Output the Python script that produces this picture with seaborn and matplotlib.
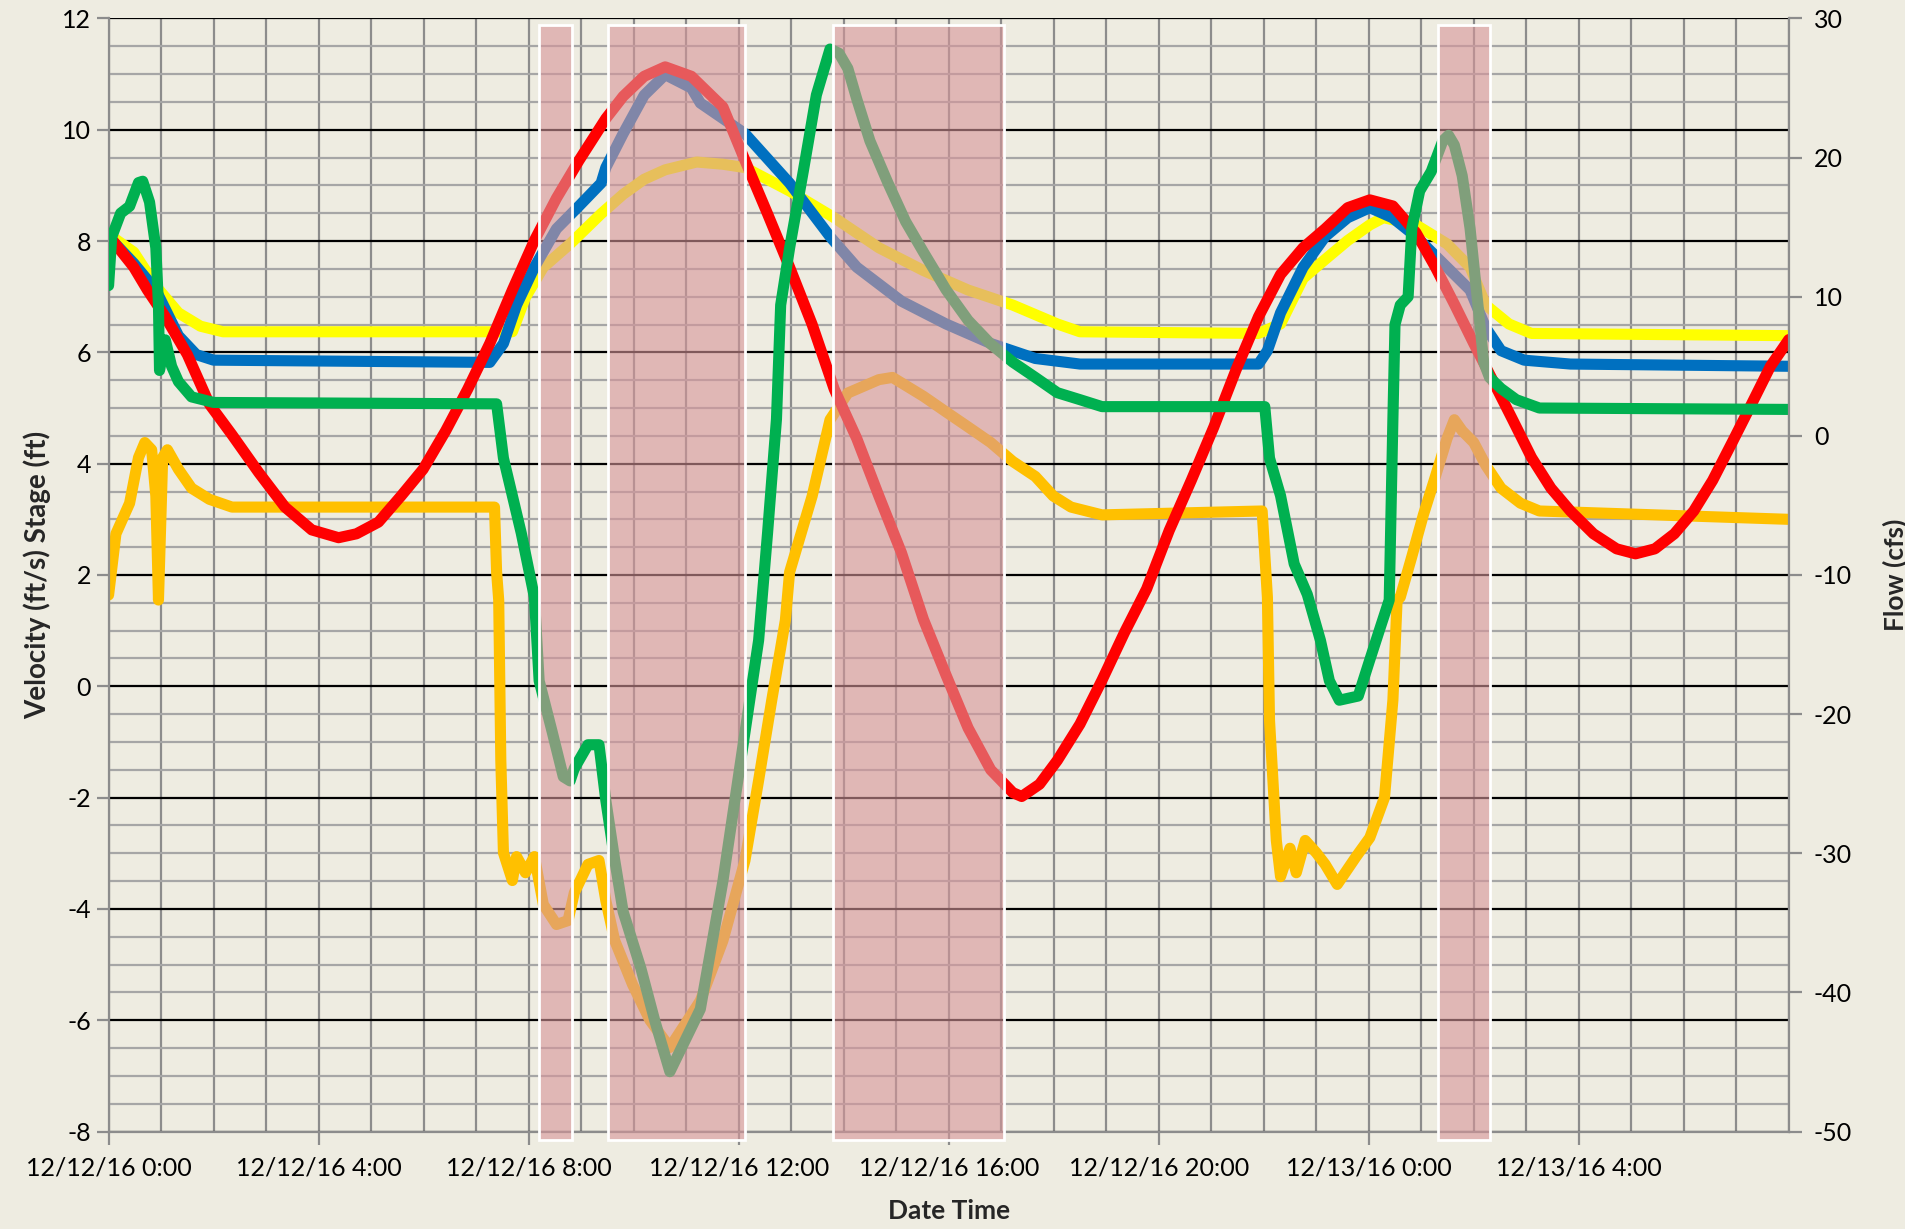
import pandas as pd
import matplotlib
matplotlib.use('Agg')
import matplotlib.pyplot as plt
import matplotlib.dates as mdates
from matplotlib.ticker import MultipleLocator
import seaborn as sns

sns.set_theme(style='white')
plt.rcParams['font.family'] = ['Lato', 'DejaVu Sans']
plt.rcParams['axes.unicode_minus'] = False

# hours after 12/12/16 0:00
red_h = [0, 0.48, 0.74, 1.08, 1.5, 1.92, 2.35, 2.86, 3.36, 3.87, 4.38, 4.72, 5.14, 5.57, 5.99, 6.42,
         6.84, 7.26, 7.69, 8.11, 8.53, 8.96, 9.47, 9.8, 10.2, 10.6, 11.1, 11.7, 12.12, 12.55, 12.97,
         13.4, 13.82, 14.25, 14.67, 15.1, 15.52, 15.95, 16.37, 16.8, 17.22, 17.39, 17.73, 18.07, 18.5,
         18.92, 19.35, 19.77, 20.2, 20.62, 21.05, 21.47, 21.9, 22.32, 22.75, 23.17, 23.6, 24.02, 24.46,
         24.9, 25.27, 25.64, 26.0, 26.37, 26.74, 27.1, 27.47, 27.84, 28.28, 28.72, 29.08, 29.45, 29.82,
         30.19, 30.55, 30.92, 31.29, 31.65, 32.0]
red_v = [8.1, 7.53, 7.12, 6.64, 5.96, 5.07, 4.52, 3.84, 3.22, 2.81, 2.67, 2.74, 2.95, 3.42, 3.9, 4.59,
         5.34, 6.16, 7.12, 8.01, 8.77, 9.45, 10.2, 10.6, 10.96, 11.13, 10.96, 10.41, 9.45, 8.49, 7.53,
         6.5, 5.34, 4.45, 3.42, 2.4, 1.2, 0.2, -0.75, -1.5, -1.91, -1.98, -1.76, -1.33, -0.68,
         0.11, 0.97, 1.75, 2.8, 3.7, 4.66, 5.68, 6.64, 7.4, 7.88, 8.22, 8.6, 8.74, 8.63,
         8.15, 7.53, 6.85, 6.16, 5.48, 4.79, 4.11, 3.56, 3.15, 2.74, 2.47, 2.38, 2.47, 2.74,
         3.15, 3.7, 4.38, 5.07, 5.75, 6.23]

blue_h = [0, 0.48, 0.9, 1.33, 1.67, 2.0, 7.26, 7.52, 7.77, 8.11, 8.53, 8.96, 9.38, 9.47, 9.8, 10.2,
          10.6, 11.1, 11.27, 12.12, 12.97, 13.74, 14.25, 15.1, 15.95, 16.8, 17.65, 18.5, 21.9, 22.07,
          22.32, 22.75, 23.17, 23.6, 24.02, 24.45, 24.9, 25.49, 25.93, 26.23, 26.52, 26.96, 27.84, 32.0]
blue_v = [8.08, 7.6, 7.12, 6.3, 5.96, 5.86, 5.82, 6.16, 6.85, 7.53, 8.22, 8.63, 9.04, 9.32, 9.93, 10.62,
          10.99, 10.75, 10.48, 9.93, 9.04, 8.08, 7.53, 6.92, 6.51, 6.16, 5.89, 5.79, 5.79, 6.03,
          6.71, 7.53, 8.08, 8.42, 8.6, 8.42, 8.08, 7.53, 7.12, 6.44, 6.03, 5.86, 5.79, 5.75]

yellow_h = [0, 0.48, 0.9, 1.33, 1.75, 2.18, 7.69, 7.94, 8.28, 8.79, 9.38, 9.8, 10.2, 10.6, 11.2, 11.7,
            12.12, 12.97, 13.82, 14.67, 15.52, 16.37, 17.22, 18.07, 18.5, 21.9, 22.32, 22.75, 23.17,
            23.6, 24.02, 24.28, 24.9, 25.49, 25.93, 26.23, 26.67, 27.1, 32.0]
yellow_v = [8.12, 7.8, 7.19, 6.71, 6.47, 6.37, 6.37, 6.99, 7.53, 7.95, 8.49, 8.84, 9.11, 9.28, 9.42, 9.38,
            9.32, 8.9, 8.42, 7.88, 7.47, 7.12, 6.85, 6.51, 6.37, 6.34, 6.51, 7.33, 7.67,
            8.01, 8.29, 8.42, 8.29, 7.95, 7.53, 6.85, 6.51, 6.34, 6.3]

orange_h = [0, 0.14, 0.4, 0.57, 0.69, 0.82, 0.9, 0.95, 1.03, 1.12, 1.33, 1.58, 1.92, 2.35, 7.35, 7.39,
            7.43, 7.47, 7.52, 7.69, 7.77, 7.94, 8.11, 8.28, 8.53, 8.75, 8.87, 9.13, 9.34, 9.47, 9.64,
            9.98, 10.31, 10.69, 11.27, 11.7, 12.12, 12.38, 12.63, 12.89, 12.97, 13.4, 13.74, 14.08,
            14.67, 14.93, 15.52, 15.95, 16.37, 16.8, 17.22, 17.65, 17.99, 18.33, 18.92, 21.97, 22.07,
            22.11, 22.24, 22.32, 22.5, 22.62, 22.79, 23.0, 23.17, 23.4, 23.76, 24.02, 24.3, 24.46, 24.54,
            24.6, 24.82, 25.04, 25.27, 25.49, 25.63, 25.78, 26.0, 26.23, 26.52, 26.89, 27.25, 32.0]
orange_v = [1.64, 2.74, 3.29, 4.11, 4.38, 4.25, 3.42, 1.55, 4.11, 4.25, 3.9, 3.56, 3.36, 3.22, 3.22, 2.05,
            1.55, -1.33, -2.99, -3.49, -3.06, -3.35, -3.06, -3.92, -4.28, -4.21, -3.71, -3.2, -3.13, -3.85, -4.57,
            -5.36, -6.0, -6.49, -5.65, -4.57, -3.13, -1.69, -0.25, 1.19, 2.05, 3.42, 4.79, 5.27,
            5.51, 5.55, 5.21, 4.93, 4.66, 4.38, 4.04, 3.77, 3.42, 3.22, 3.08, 3.15, 1.6,
            -0.61, -2.77, -3.42, -2.91, -3.35, -2.77, -2.99, -3.2, -3.56, -3.06, -2.72, -2.0, -0.25, 1.55,
            1.6, 2.33, 3.08, 3.77, 4.45, 4.79, 4.59, 4.38, 3.97, 3.56, 3.29, 3.15, 3.0]

flow_h = [0, 0.06, 0.23, 0.4, 0.57, 0.65, 0.78, 0.9, 0.95, 0.97, 1.08, 1.2, 1.33, 1.58, 2.0, 7.39,
          7.52, 7.69, 7.86, 8.11, 8.2, 8.45, 8.66, 8.79, 8.87, 9.13, 9.34, 9.47, 9.64, 9.8, 10.14,
          10.4, 10.69, 11.27, 11.7, 12.12, 12.38, 12.55, 12.72, 12.8, 12.97, 13.23, 13.48, 13.74,
          13.91, 14.08, 14.25, 14.5, 14.84, 15.18, 15.52, 15.95, 16.37, 16.8, 17.22, 17.65, 18.07,
          18.5, 18.92, 22.02, 22.11, 22.32, 22.58, 22.83, 23.08, 23.25, 23.44, 23.8, 24.02, 24.2,
          24.39, 24.46, 24.5, 24.6, 24.75, 24.82, 24.97, 25.19, 25.3, 25.41, 25.52, 25.63, 25.78,
          25.93, 26.08, 26.19, 26.3, 26.52, 26.81, 27.25, 32.0]
flow_v = [10.8, 14.3, 16.0, 16.5, 18.2, 18.3, 16.8, 13.5, 9.4, 4.7, 6.9, 5.0, 3.9, 2.8, 2.4, 2.3,
          -1.6, -4.3, -7.0, -11.6, -17.6, -21.3, -24.5, -24.8, -23.9, -22.2, -22.2, -26.2, -30.5, -34.2, -38.3,
          -42.0, -45.7, -41.2, -32.0, -21.3, -14.7, -7.0, 1.2, 9.4, 13.5, 19.0, 24.5, 27.8,
          27.5, 26.4, 24.2, 21.2, 18.2, 15.4, 13.2, 10.5, 8.3, 6.6, 5.3, 4.2, 3.1,
          2.6, 2.1, 2.1, -1.6, -4.3, -9.2, -11.4, -14.7, -17.6, -19.0, -18.7, -16.1, -14.0,
          -11.8, 1.2, 8.0, 9.4, 10.0, 14.9, 17.6, 19.0, 20.1, 21.2, 21.6, 20.9, 18.7,
          14.9, 9.4, 5.3, 4.2, 3.4, 2.6, 2.0, 1.9]

# shaded windows (hours)
band_start = [8.2, 9.51, 13.79, 25.32]
band_end = [8.83, 12.12, 17.05, 26.3]

tick_hours = [0, 4, 8, 12, 16, 20, 24, 28]

t0 = pd.Timestamp('2016-12-12 00:00')
def to_time(hours):
    return t0 + pd.to_timedelta(hours, unit='h')

bg = '#EEECE1'
fig = plt.figure(figsize=(19.05, 12.29), dpi=100, facecolor=bg)
ax = fig.add_axes([0.057, 0.0793, 0.882, 0.9057])
ax.set_facecolor(bg)
ax2 = ax.twinx()

lw = 8
sns.lineplot(x=to_time(orange_h), y=orange_v, ax=ax, color='#FFC000', lw=lw)
sns.lineplot(x=to_time(yellow_h), y=yellow_v, ax=ax, color='#FFFF00', lw=lw)
sns.lineplot(x=to_time(blue_h), y=blue_v, ax=ax, color='#0070C0', lw=lw)
sns.lineplot(x=to_time(red_h), y=red_v, ax=ax, color='#FF0000', lw=lw)
sns.lineplot(x=to_time(flow_h), y=flow_v, ax=ax2, color='#00B050', lw=lw)

# shaded windows drawn on top of everything
for s, e in zip(band_start, band_end):
    ax2.axvspan(to_time(s), to_time(e), ymin=-0.008, ymax=0.994, facecolor='#D79599', alpha=0.6,
                edgecolor='none', zorder=5, clip_on=False)
    ax2.axvspan(to_time(s), to_time(e), ymin=-0.008, ymax=0.994, facecolor='none',
                edgecolor='white', lw=2, zorder=6, clip_on=False)

ax.set_xlim(t0, to_time(32))
ax.set_ylim(-8, 12)
ax2.set_ylim(-50, 30)

ax.set_xticks([to_time(h) for h in tick_hours])
ax.xaxis.set_minor_locator(mdates.HourLocator())
ax.xaxis.set_major_formatter(mdates.DateFormatter('%m/%d/%y %-H:%M'))
ax.yaxis.set_major_locator(MultipleLocator(2))
ax.yaxis.set_minor_locator(MultipleLocator(0.5))
ax2.yaxis.set_major_locator(MultipleLocator(10))

ax.grid(which='major', axis='y', color='black', lw=1.6)
ax.grid(which='minor', axis='y', color='#A6A6A6', lw=1.6)
ax.grid(which='both', axis='x', color='#8C8C8C', lw=1.6)
ax.set_axisbelow(True)

for a in (ax, ax2):
    for sp in a.spines.values():
        sp.set_visible(False)
for sp in ('left', 'bottom'):
    ax.spines[sp].set_visible(True)
    ax.spines[sp].set_color('#8C8C8C')
    ax.spines[sp].set_linewidth(1.6)
ax2.spines['right'].set_visible(True)
ax2.spines['right'].set_color('#8C8C8C')
ax2.spines['right'].set_linewidth(1.6)

ax.tick_params(axis='both', which='major', direction='out', length=9, width=1.6, color='#8C8C8C',
               labelsize=18, labelcolor='black', left=True, bottom=True)
ax.tick_params(axis='x', which='major', pad=9)
ax.tick_params(axis='both', which='minor', length=0)
ax2.tick_params(axis='y', direction='out', length=9, width=1.6, color='#8C8C8C', labelsize=18,
                labelcolor='black', right=True, pad=9)

ax.set_xlabel('Date Time', fontsize=19, fontweight='bold', labelpad=14)
ax.set_ylabel('Velocity (ft/s) Stage (ft)', fontsize=20, fontweight='bold', labelpad=8)
ax2.set_ylabel('Flow (cfs)', fontsize=19, fontweight='bold', labelpad=22, rotation=90)

fig.savefig('out.png', dpi=100, facecolor=bg)
